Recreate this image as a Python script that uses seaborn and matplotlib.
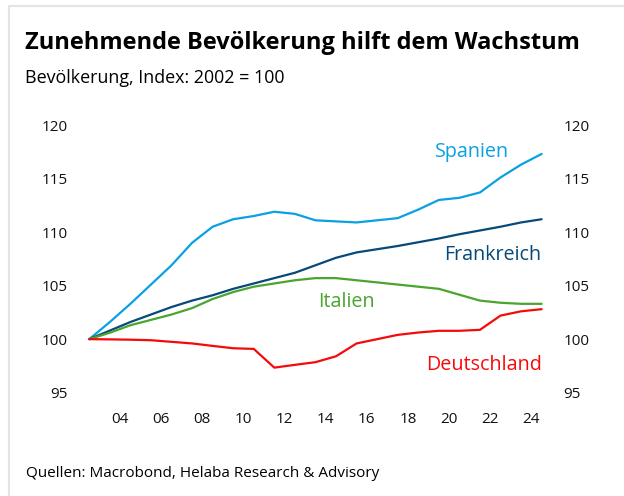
import numpy as np
import pandas as pd
import seaborn as sns
import matplotlib.pyplot as plt
from matplotlib.lines import Line2D

# Bevoelkerung, Index 2002 = 100 (Jahreswerte 2002-2024)
jahre = list(range(2002, 2025))
spanien = [100.0, 101.6, 103.3, 105.1, 106.9, 109.0, 110.5, 111.2, 111.5, 111.9, 111.7, 111.1,
           111.0, 110.9, 111.1, 111.3, 112.1, 113.0, 113.2, 113.7, 115.1, 116.3, 117.3]
frankreich = [100.0, 100.8, 101.6, 102.3, 103.0, 103.6, 104.1, 104.7, 105.2, 105.7, 106.2, 106.9,
              107.6, 108.1, 108.4, 108.7, 109.05, 109.4, 109.8, 110.15, 110.5, 110.9, 111.2]
italien = [100.0, 100.6, 101.3, 101.8, 102.3, 102.9, 103.75, 104.4, 104.9, 105.2, 105.5, 105.7,
           105.7, 105.5, 105.3, 105.1, 104.9, 104.7, 104.15, 103.6, 103.4, 103.3, 103.3]
deutschland = [100.0, 99.98, 99.95, 99.9, 99.75, 99.6, 99.37, 99.15, 99.09, 97.34, 97.6, 97.85,
               98.4, 99.6, 100.0, 100.4, 100.62, 100.78, 100.78, 100.87, 102.2, 102.6, 102.8]

laender = ['Spanien', 'Frankreich', 'Italien', 'Deutschland']
farben = ['#0aa0e2', '#074a7a', '#4aa52e', '#f50a0a']
tick_jahre = list(range(2004, 2025, 2))
tick_labels = [f"{j % 100:02d}" for j in tick_jahre]
y_ticks = [95, 100, 105, 110, 115, 120]

werte = {'Spanien': spanien, 'Frankreich': frankreich,
         'Italien': italien, 'Deutschland': deutschland}
rows = []
for land in laender:
    for j, v in zip(jahre, werte[land]):
        # Jahreswert am Jahresende eingetragen
        rows.append({'Jahr': j + 1, 'Land': land, 'Wert': v})
df = pd.DataFrame(rows)

sns.set_style('white')
plt.rcParams['font.family'] = ['Open Sans', 'DejaVu Sans']

fig = plt.figure(figsize=(6.24, 4.96), dpi=100)
ax = fig.add_axes([68.7 / 624, 1 - 403.4 / 496, (562.2 - 68.7) / 624, (403.4 - 114.3) / 496])

sns.lineplot(data=df, x='Jahr', y='Wert', hue='Land', hue_order=laender,
             palette=farben, linewidth=1.6, legend=False, ax=ax)

ax.set_xlim(2002, 2026)
ax.set_ylim(94, 121)
ax.set_xticks([j + 0.5 for j in tick_jahre])
ax.set_xticklabels(tick_labels)
ax.set_yticks(y_ticks)
ax.set_yticklabels([str(t) for t in y_ticks])
ax.tick_params(axis='x', length=0, pad=6, labelsize=11, colors='#111111')
ax.tick_params(axis='y', length=0, pad=1, labelsize=11, colors='#111111',
               labelleft=True, labelright=True)
ax.set_xlabel('')
ax.set_ylabel('')
for s in ax.spines.values():
    s.set_visible(False)
ax.grid(False)

# Beschriftungen der Linien
ax.text(2021.6, 117.45, 'Spanien', color=farben[0], fontsize=14.2, ha='center', va='center')
ax.text(2025.0, 107.85, 'Frankreich', color=farben[1], fontsize=14.2, ha='right', va='center')
ax.text(2015.5, 103.5, 'Italien', color=farben[2], fontsize=14.2, ha='center', va='center')
ax.text(2025.0, 97.6, 'Deutschland', color=farben[3], fontsize=14.2, ha='right', va='center')

fig.text(25 / 624, 1 - 49.3 / 496, 'Zunehmende Bevölkerung hilft dem Wachstum',
         fontsize=17.0, fontweight='bold', ha='left', va='baseline', color='black')
fig.text(25 / 624, 1 - 82.7 / 496, 'Bevölkerung, Index: 2002 = 100',
         fontsize=12.9, ha='left', va='baseline', color='black')
fig.text(26 / 624, 1 - 477.3 / 496, 'Quellen: Macrobond, Helaba Research & Advisory',
         fontsize=11.0, ha='left', va='baseline', color='black')

# heller Rahmen oben und links
fig.add_artist(Line2D([9 / 624, 9 / 624], [0, 1 - 6 / 496], transform=fig.transFigure,
                      color='#e4e4e4', linewidth=1.6))
fig.add_artist(Line2D([9 / 624, 1], [1 - 6 / 496, 1 - 6 / 496], transform=fig.transFigure,
                      color='#e4e4e4', linewidth=1.6))

fig.savefig('out.png', dpi=100)
